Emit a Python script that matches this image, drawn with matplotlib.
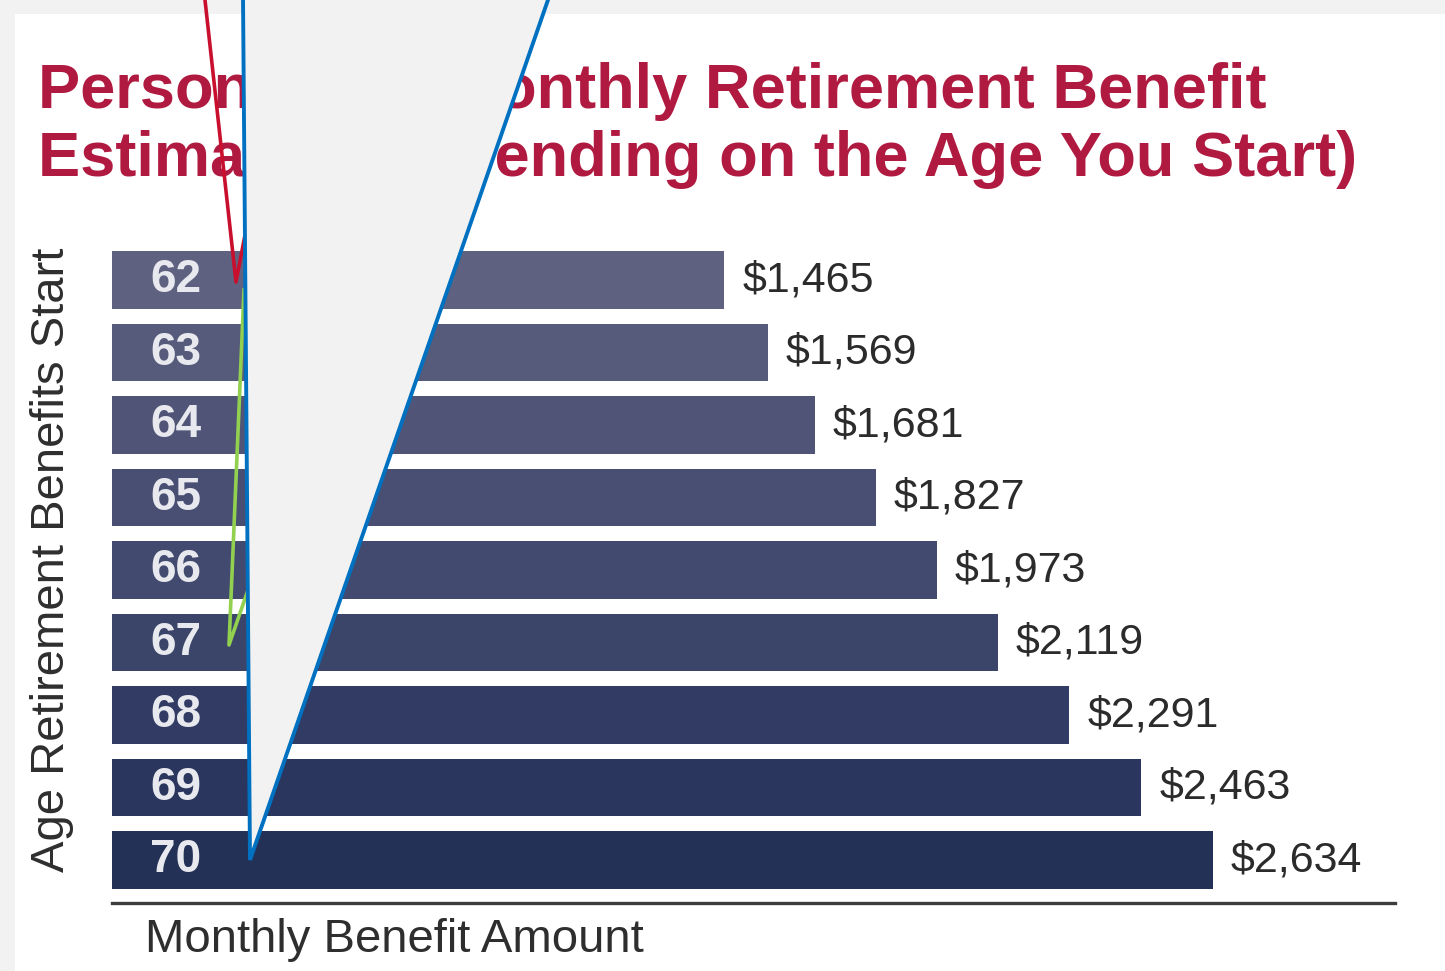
import matplotlib.pyplot as plt
from matplotlib.patches import Rectangle, Polygon
from matplotlib.lines import Line2D

plt.rcParams['font.family'] = ['Liberation Sans', 'DejaVu Sans']

# benefit by starting age
ages = ["62", "63", "64", "65", "66", "67", "68", "69", "70"]
benefits = [1465, 1569, 1681, 1827, 1973, 2119, 2291, 2463, 2634]
value_labels = ["$1,465", "$1,569", "$1,681", "$1,827", "$1,973",
                "$2,119", "$2,291", "$2,463", "$2,634"]

title_lines = ["Personalized Monthly Retirement Benefit",
               "Estimates (Depending on the Age You Start)"]

bar_colors = ["#5f6180", "#575b7b", "#505577", "#494f73", "#434a6f",
              "#3b4469", "#313b63", "#2a365d", "#243157"]

W, H = 1445, 971
fig = plt.figure(figsize=(W / 100, H / 100), dpi=100)
fig.patch.set_facecolor("#f2f2f2")


def px(x, y):
    # pixel position (from top-left) -> figure fraction
    return (x / W, 1 - y / H)


# white card behind the chart
fig.patches.append(Rectangle(px(15, H), (W - 15) / W, (H - 14) / H,
                             transform=fig.transFigure, facecolor="white",
                             edgecolor="none", zorder=-1))

# axes placed by pixel box: left 112, right 1395, top 240, bottom 903
ax = fig.add_axes([112 / W, 1 - 903 / H, (1395 - 112) / W, (903 - 240) / H])
ax.set_facecolor("none")

pos = list(range(len(ages)))
ax.barh(pos, benefits, height=0.79, color=bar_colors, zorder=2)
ax.set_ylim(8.593, -0.552)
ax.set_xlim(0, 3070)

for i, (age, val, lab) in enumerate(zip(ages, benefits, value_labels)):
    ax.annotate(age, xy=(0, i), xytext=(46, 0), textcoords="offset points",
                ha="center", va="center", fontsize=33, fontweight="bold",
                color="#e8e9ee", zorder=3)
    ax.annotate(lab, xy=(val, i), xytext=(13, 0), textcoords="offset points",
                ha="left", va="center", fontsize=31, color="#2b2b2b", zorder=3)

for s in ["top", "right", "left"]:
    ax.spines[s].set_visible(False)
ax.spines["bottom"].set_linewidth(2.4)
ax.spines["bottom"].set_color("#3c3c3c")
ax.set_xticks([])
ax.set_yticks([])

# titles and axis captions
fig.text(*px(38, 108), title_lines[0], fontsize=45.5, fontweight="bold",
         color="#b01a40", ha="left", va="baseline")
fig.text(*px(38, 176), title_lines[1], fontsize=45.5, fontweight="bold",
         color="#b01a40", ha="left", va="baseline")
fig.text(*px(52, 560), "Age Retirement Benefits Start", rotation=90,
         fontsize=34, color="#2e2e2e", ha="center", va="center")
fig.text(*px(145, 940), "Monthly Benefit Amount", fontsize=34,
         color="#2e2e2e", ha="left", va="center")

# callout pointers laid over the chart
red = Line2D([205 / W, 236 / W, 245 / W], [1, 1 - 282 / H, 1 - 235 / H],
             transform=fig.transFigure, color="#c8102e", lw=2.6, zorder=5)
green = Line2D([244 / W, 229 / W, 248 / W],
               [1 - 290 / H, 1 - 645 / H, 1 - 590 / H],
               transform=fig.transFigure, color="#92d050", lw=2.6, zorder=5)
fig.lines.extend([red, green])
blue = Polygon([px(243, -3), px(549, -3), px(250, 860)], closed=True,
               transform=fig.transFigure, facecolor="#f2f2f2",
               edgecolor="#0070c0", lw=2.8, zorder=6)
fig.patches.append(blue)

fig.savefig("out.png", dpi=100)
